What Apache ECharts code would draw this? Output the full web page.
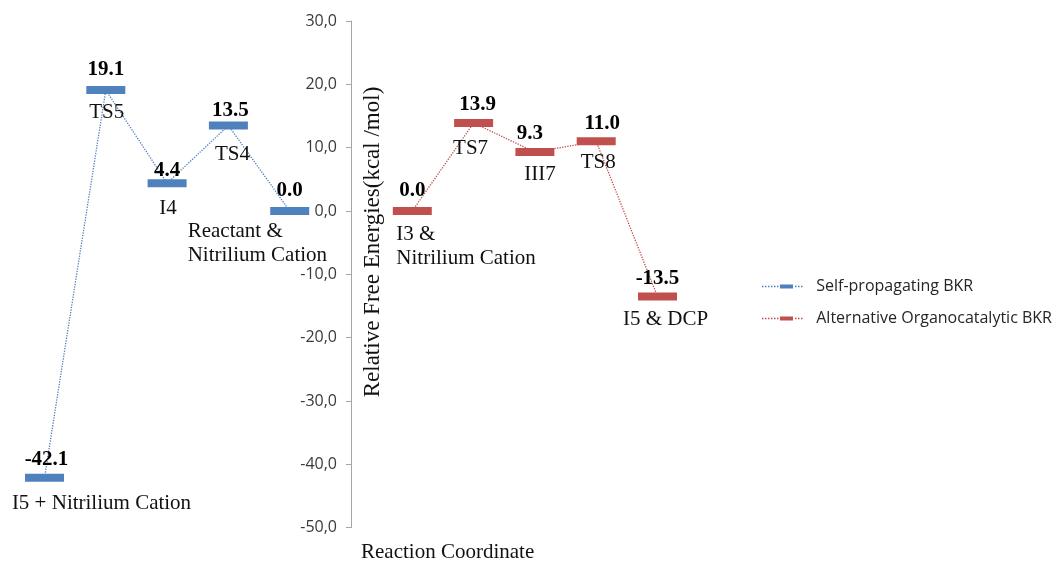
<!DOCTYPE html>
<html>
<head>
<meta charset="utf-8">
<script src="https://cdn.jsdelivr.net/npm/echarts@6/dist/echarts.min.js"></script>
<style>
html,body{margin:0;padding:0;background:#fff;}
#chart{width:1060px;height:562px;}
</style>
</head>
<body>
<div id="chart"></div>
<script>
// ---- data ----
const blueName = 'Self-propagating BKR';
const redName = 'Alternative Organocatalytic BKR';
const blueStates = ['I5 + Nitrilium Cation', 'TS5', 'I4', 'TS4', 'Reactant &\nNitrilium Cation'];
const blueValues = [-42.1, 19.1, 4.4, 13.5, 0.0];
const redStates = ['I3 &\nNitrilium Cation', 'TS7', 'III7', 'TS8', 'I5 & DCP'];
const redValues = [0.0, 13.9, 9.3, 11.0, -13.5];
const categories = [...blueStates, '', ...redStates];
const yTicks = { min: -50, max: 30, step: 10 };
const yAxisTitle = 'Relative Free Energies(kcal /mol)';
const xAxisTitle = 'Reaction Coordinate';

// ---- label placement tweaks (layout only) ----
const blueValueOffsets = [[2, -18], [0, -20], [0, -13], [2, -15], [0, -20]];
const redValueOffsets = [[0, -20], [4, -18], [-5, -19], [6, -18], [0, -18]];
const blueNameLayout = [
  { offset: [57, 26], align: 'center' },
  { offset: [1, 22], align: 'center' },
  { offset: [1, 25], align: 'center' },
  { offset: [4, 29], align: 'center' },
  { offset: [-102, 32], align: 'left' }
];
const redNameLayout = [
  { offset: [-16, 35], align: 'left' },
  { offset: [-3, 26], align: 'center' },
  { offset: [5, 22], align: 'center' },
  { offset: [2, 21], align: 'center' },
  { offset: [8, 23], align: 'center' }
];

const BLUE = '#4f81bd', RED = '#c0504d';
const serif = 'Liberation Serif';
const blueStart = 0, redStart = blueStates.length + 1;

function legendIcon() {
  let p = 'path://';
  [0, 3, 6, 9, 12, 15, 33, 36, 39].forEach(x => { p += 'M' + x + ',1.35h1.5v1.3h-1.5z'; });
  p += 'M18,0h13v4h-13z';
  return p;
}

function lineSeries(name, values, start, color, offsets) {
  return {
    name: name, type: 'line', z: 3,
    data: values.map((v, i) => ({ value: [start + i, v], label: { offset: offsets[i] } })),
    symbol: 'rect', symbolSize: [39, 8],
    itemStyle: { color: color },
    lineStyle: { color: color, width: 1.3, type: 'dotted' },
    label: {
      show: true, position: 'inside',
      formatter: p => p.value[1].toFixed(1),
      fontFamily: serif, fontWeight: 'bold', fontSize: 21, color: '#000'
    },
    emphasis: { disabled: true }, animation: false
  };
}
function nameSeries(id, names, values, start, layouts) {
  return {
    name: id, type: 'scatter', z: 4,
    data: values.map((v, i) => ({
      value: [start + i, v], name: names[i],
      label: { offset: layouts[i].offset, align: layouts[i].align }
    })),
    symbolSize: 1, itemStyle: { color: 'rgba(0,0,0,0)', opacity: 1 },
    label: {
      show: true, position: 'inside', formatter: p => p.name,
      fontFamily: serif, fontSize: 21, lineHeight: 24, color: '#111', opacity: 1
    },
    emphasis: { disabled: true }, silent: true, animation: false
  };
}

const chart = echarts.init(document.getElementById('chart'), null, { renderer: 'canvas' });
const gridLeft = 13.85, gridRight = 371.85;
const plotW = 1060 - gridLeft - gridRight;
const axisX = gridLeft + plotW * (blueStates.length + 0.5) / categories.length;

chart.setOption({
  animation: false,
  grid: { left: gridLeft, right: gridRight, top: 21, bottom: 34.3, containLabel: false, outerBoundsMode: 'none' },
  xAxis: {
    type: 'category', data: categories, boundaryGap: true, show: false
  },
  yAxis: {
    type: 'value', min: yTicks.min, max: yTicks.max, interval: yTicks.step,
    position: 'left', offset: -(axisX - gridLeft),
    axisLine: { show: true, lineStyle: { color: '#a6a6a6', width: 1 } },
    axisTick: { show: true, length: 5, lineStyle: { color: '#a6a6a6' } },
    splitLine: { show: false },
    axisLabel: {
      margin: 14, fontFamily: 'Open Sans', fontSize: 16, color: '#3a3a3a',
      formatter: v => v.toFixed(1).replace('.', ',')
    }
  },
  legend: {
    orient: 'vertical', left: 757, top: 271, itemWidth: 58, itemHeight: 4, itemGap: 11,
    data: [{ name: blueName, icon: legendIcon() }, { name: redName, icon: legendIcon() }],
    textStyle: { fontFamily: 'Open Sans', fontSize: 16, color: '#262626', lineHeight: 21 },
    selectedMode: false
  },
  graphic: [
    {
      type: 'text', x: 373, y: 242, rotation: Math.PI / 2,
      style: { text: yAxisTitle, font: '23px "Liberation Serif"', fill: '#111', align: 'center', verticalAlign: 'middle' }
    },
    {
      type: 'text', x: 361, y: 552,
      style: { text: xAxisTitle, font: '21px "Liberation Serif"', fill: '#111', align: 'left', verticalAlign: 'middle' }
    }
  ],
  series: [
    lineSeries(blueName, blueValues, blueStart, BLUE, blueValueOffsets),
    lineSeries(redName, redValues, redStart, RED, redValueOffsets),
    nameSeries('blueStates', blueStates, blueValues, blueStart, blueNameLayout),
    nameSeries('redStates', redStates, redValues, redStart, redNameLayout)
  ]
});
</script>
</body>
</html>
